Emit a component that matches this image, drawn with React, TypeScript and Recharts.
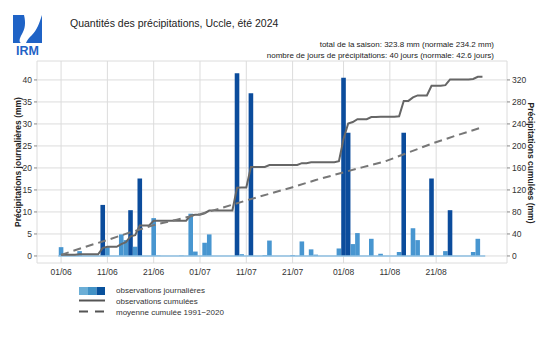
import { ComposedChart, Bar, Line, XAxis, YAxis, CartesianGrid, Cell, ReferenceLine } from 'recharts'

// daily rainfall (mm), Uccle, summer 2024
const rainDates = ['01/06', '05/06', '10/06', '11/06', '14/06', '15/06', '16/06', '17/06', '18/06', '21/06', '22/06', '27/06', '29/06', '30/06',
  '02/07', '03/07', '09/07', '10/07', '12/07', '15/07', '16/07', '21/07', '23/07', '25/07', '26/07', '31/07',
  '01/08', '02/08', '03/08', '04/08', '07/08', '09/08', '13/08', '14/08', '16/08', '17/08', '20/08', '23/08', '24/08', '29/08', '30/08']
const rainMm = [2.0, 1.1, 11.6, 2.0, 4.9, 3.6, 10.4, 2.1, 17.6, 8.6, 0.1, 0.1, 9.6, 1.0,
  3.0, 4.9, 41.5, 0.4, 37.0, 0.2, 3.5, 0.2, 3.3, 1.5, 0.3, 1.7,
  40.5, 28.0, 2.7, 5.2, 3.9, 0.5, 0.9, 28.0, 6.3, 3.6, 17.6, 1.1, 10.4, 0.9, 3.9]

// normal cumulative 1991-2020 (mm), read at a few days (0 = 1 June)
const normalDays = [0, 5, 10, 15, 20, 25, 30, 35, 40, 45, 50, 55, 61, 65, 70, 75, 80, 85, 91]
const normalCum = [2, 16, 29, 43, 56, 66, 76, 88, 101, 113, 125, 138, 152, 161, 172, 188, 204, 218, 234]

const tickDays = [0, 10, 20, 30, 40, 50, 61, 71, 81]
const tickLabels = ['01/06', '11/06', '21/06', '01/07', '11/07', '21/07', '01/08', '11/08', '21/08']
const leftTicks = [0, 5, 10, 15, 20, 25, 30, 35, 40]
const rightTicks = [0, 40, 80, 120, 160, 200, 240, 280, 320]

const MONTH_OFFSET: Record<string, number> = { '06': 0, '07': 30, '08': 61 }
const dayIndex = (d: string) => MONTH_OFFSET[d.slice(3)] + Number(d.slice(0, 2)) - 1

type Row = { day: number; rain: number; cum: number; norm: number | null }
const rows: Row[] = Array.from({ length: 92 }, (_, i) => ({ day: i, rain: 0, cum: 0, norm: null }))
rainDates.forEach((d, i) => { rows[dayIndex(d)].rain = rainMm[i] })
let running = 0
rows.forEach((r) => { running += r.rain; r.cum = Math.round(running * 10) / 10 })
normalDays.forEach((d, i) => { rows[d].norm = normalCum[i] })

const FONT = '"Liberation Sans", Arial, sans-serif'
const DARK = '#0b4c9c'
const MID = '#4896d0'

const tickStyle = { fontSize: 8.5, fill: '#333', fontFamily: FONT }

function Logo() {
  return (
    <svg width={32} height={44} style={{ position: 'absolute', left: 12, top: 13 }}>
      <path d="M1 2 L12 2 C14 10 13 16 10 21 C7 26 7 29 9 30 L1 30 Z" fill="#1f63c6" />
      <path d="M30 2 L30 30 L14 30 C15 27 17 25 20 22 C25 17 27 11 30 2 Z" fill="#1f63c6" />
      <text x={15.5} y={42} textAnchor="middle" fontFamily={FONT} fontWeight="bold" fontSize={12.5} fill="#1f63c6">IRM</text>
    </svg>
  )
}

function LegendBox() {
  const txt = { position: 'absolute' as const, left: 116, fontSize: 8, color: '#333', fontFamily: FONT, lineHeight: '10px' }
  return (
    <>
      <svg width={30} height={32} style={{ position: 'absolute', left: 79, top: 286 }}>
        <rect x={0} y={1} width={9} height={8} fill="#6baed6" />
        <rect x={9} y={1} width={8.5} height={8} fill="#4292c6" />
        <rect x={17.5} y={1} width={8.5} height={8} fill="#08519c" />
        <line x1={0} x2={26} y1={14.5} y2={14.5} stroke="#555" strokeWidth={2} />
        <line x1={0} x2={26} y1={25.5} y2={25.5} stroke="#555" strokeWidth={2} strokeDasharray="9 7" />
      </svg>
      <div style={{ ...txt, top: 286 }}>observations journalières</div>
      <div style={{ ...txt, top: 297 }}>observations cumulées</div>
      <div style={{ ...txt, top: 307.5 }}>moyenne cumulée 1991−2020</div>
    </>
  )
}

export default function App() {
  return (
    <div style={{ position: 'absolute', left: 0, top: 0, width: 560, height: 341, background: '#fff', fontFamily: FONT }}>
      <Logo />
      <div style={{ position: 'absolute', left: 70, top: 17, fontSize: 10.5, color: '#222', lineHeight: '12px' }}>
        Quantités des précipitations, Uccle, été 2024
      </div>
      <div style={{ position: 'absolute', right: 66, top: 39, fontSize: 8, color: '#222', lineHeight: '11px', textAlign: 'right', whiteSpace: 'nowrap' }}>
        total de la saison: 323.8 mm (normale 234.2 mm)<br />
        nombre de jours de précipitations: 40 jours (normale: 42.6 jours)
      </div>

      <div style={{ position: 'absolute', left: 0, top: 0 }}>
        <ComposedChart width={560} height={341} data={rows} margin={{ top: 61, right: 13, bottom: 58, left: 7 }}>
          <CartesianGrid yAxisId="l" stroke="#dcdcdc" strokeWidth={1} />
          <XAxis
            dataKey="day"
            type="number"
            domain={[-5.2, 96.3]}
            allowDataOverflow
            ticks={tickDays}
            tickFormatter={(v: number) => tickLabels[tickDays.indexOf(v)] ?? ''}
            axisLine={false}
            tickLine={false}
            tickSize={4}
            height={20}
            tick={tickStyle}
            interval={0}
          />
          <YAxis
            yAxisId="l"
            domain={[-1.6, 44.3]}
            allowDataOverflow
            ticks={leftTicks}
            width={30}
            axisLine={false}
            tickSize={3}
            tickLine={{ stroke: '#888' }}
            tick={tickStyle}
            interval={0}
          />
          <YAxis
            yAxisId="r"
            orientation="right"
            domain={[-12.8, 354.4]}
            allowDataOverflow
            ticks={rightTicks}
            width={40}
            axisLine={false}
            tickSize={3}
            tickLine={{ stroke: '#888' }}
            tick={tickStyle}
            interval={0}
          />
          <ReferenceLine yAxisId="l" segment={[{ x: -0.6, y: 0 }, { x: 91.6, y: 0 }]} stroke="#8fc0e3" strokeWidth={1.5} />
          <Bar yAxisId="l" dataKey="rain" barSize={4.6} isAnimationActive={false}>
            {rows.map((r, i) => (
              <Cell key={`c-${i}`} fill={r.rain >= 10 ? DARK : MID} />
            ))}
          </Bar>
          <Line yAxisId="r" dataKey="cum" type="linear" stroke="#666" strokeWidth={2} dot={false} isAnimationActive={false} />
          <Line yAxisId="r" dataKey="norm" type="linear" stroke="#777" strokeWidth={2} strokeDasharray="8 5" dot={false} connectNulls isAnimationActive={false} />
        </ComposedChart>
      </div>

      <div style={{ position: 'absolute', left: 18, top: 162, transform: 'translate(-50%, -50%) rotate(-90deg)', fontSize: 8.5, fontWeight: 'bold', color: '#222', whiteSpace: 'nowrap' }}>
        Précipitations journalières (mm)
      </div>
      <div style={{ position: 'absolute', left: 531, top: 163, transform: 'translate(-50%, -50%) rotate(90deg)', fontSize: 8.5, fontWeight: 'bold', color: '#222', whiteSpace: 'nowrap' }}>
        Précipitations cumulées (mm)
      </div>

      <LegendBox />
    </div>
  )
}
